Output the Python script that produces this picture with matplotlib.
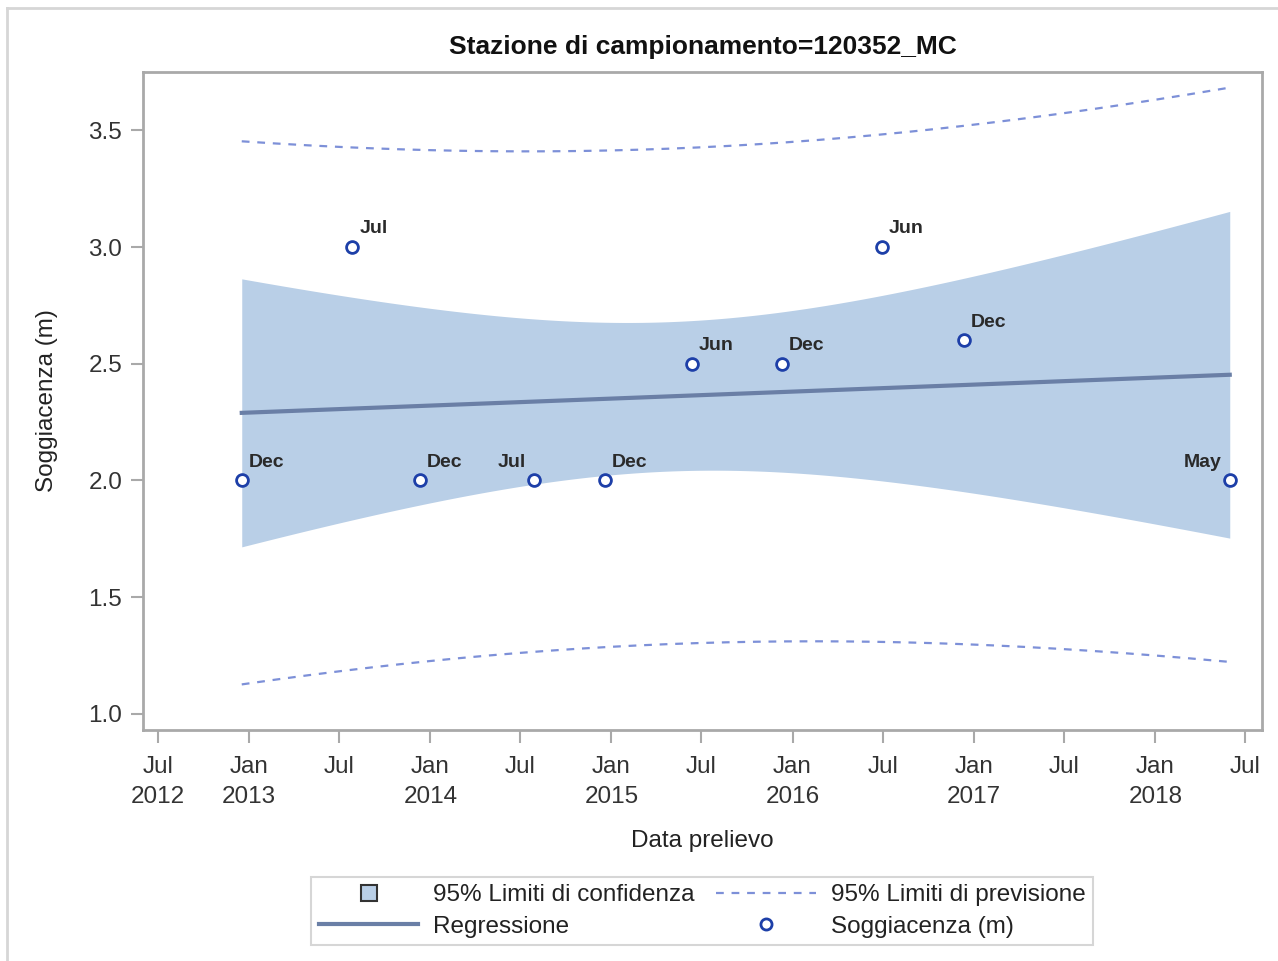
import numpy as np
import matplotlib
matplotlib.use("Agg")
import matplotlib.pyplot as plt
import matplotlib.dates as mdates
from matplotlib.lines import Line2D
import datetime as dt

# ---- data ----
dates = ["2012-12-17", "2013-07-28", "2013-12-11", "2014-07-29", "2014-12-19",
         "2015-06-12", "2015-12-10", "2016-06-29", "2016-12-12", "2018-05-31"]
values = [2.0, 3.0, 2.0, 2.0, 2.0, 2.5, 2.5, 3.0, 2.6, 2.0]
point_labels = ["Dec", "Jul", "Dec", "Jul", "Dec", "Jun", "Dec", "Jun", "Dec", "May"]
label_side = ["r", "r", "r", "l", "r", "r", "r", "r", "r", "l"]
title = "Stazione di campionamento=120352_MC"
t_crit = 2.306  # t(0.975, df=8)

plt.rcParams['font.family'] = ['Liberation Sans', 'DejaVu Sans']
FS = 17.5

xd = mdates.datestr2num(dates)
y = np.array(values)
n = len(y)
xm = xd.mean()
Sxx = np.sum((xd - xm) ** 2)
b1 = np.sum((xd - xm) * (y - y.mean())) / Sxx
b0 = y.mean() - b1 * xm
resid = y - (b0 + b1 * xd)
s = np.sqrt(np.sum(resid ** 2) / (n - 2))
grid = np.linspace(xd.min(), xd.max(), 300)
fit = b0 + b1 * grid
se_mean = s * np.sqrt(1 / n + (grid - xm) ** 2 / Sxx)
se_pred = s * np.sqrt(1 + 1 / n + (grid - xm) ** 2 / Sxx)

band_c = "#B9CFE7"
reg_c = "#6A7FA6"
pred_c = "#7D90D8"
mk_c = "#1D3FA8"
spine_c = "#A9A9A9"

fig = plt.figure(figsize=(12.78, 9.61), dpi=100)
ax = fig.add_axes([143 / 1278, 1 - 730 / 961, (1262 - 143) / 1278, (730 - 72) / 961])

ax.fill_between(grid, fit - t_crit * se_mean, fit + t_crit * se_mean, color=band_c, lw=0, zorder=1)
ax.plot(grid, fit, color=reg_c, lw=3, zorder=2)
ax.plot(grid, fit + t_crit * se_pred, color=pred_c, lw=1.6, ls=(0, (3.5, 3.5)), zorder=2)
ax.plot(grid, fit - t_crit * se_pred, color=pred_c, lw=1.6, ls=(0, (3.5, 3.5)), zorder=2)
ax.plot(xd, y, ls="none", marker="o", ms=8.5, mfc="white", mec=mk_c, mew=2, zorder=3)

for xi, yi, lab, side in zip(xd, y, point_labels, label_side):
    if side == "r":
        ax.annotate(lab, (xi, yi), xytext=(5, 7), textcoords="offset points",
                    ha="left", va="bottom", fontsize=14, fontweight="bold", color="#2a2a2a")
    else:
        ax.annotate(lab, (xi, yi), xytext=(-6, 7), textcoords="offset points",
                    ha="right", va="bottom", fontsize=14, fontweight="bold", color="#2a2a2a")

ax.set_xlim(mdates.datestr2num("2012-06-01"), mdates.datestr2num("2018-08-04"))
ax.set_ylim(0.93, 3.75)
ax.set_yticks([1.0, 1.5, 2.0, 2.5, 3.0, 3.5])
ax.set_yticklabels(["1.0", "1.5", "2.0", "2.5", "3.0", "3.5"])

ticks = []
tlabels = []
for yr in range(2012, 2019):
    for mo in (1, 7):
        d = dt.date(yr, mo, 1)
        if dt.date(2012, 7, 1) <= d <= dt.date(2018, 7, 1):
            ticks.append(mdates.date2num(d))
            if mo == 1:
                tlabels.append("Jan\n%d" % yr)
            elif yr == 2012:
                tlabels.append("Jul\n2012")
            else:
                tlabels.append("Jul\n ")
ax.set_xticks(ticks)
ax.set_xticklabels(tlabels, linespacing=1.5)

ax.tick_params(axis="both", direction="out", length=9, width=1.5, color=spine_c,
               labelsize=FS, labelcolor="#333333")
ax.tick_params(axis="y", pad=6)
ax.tick_params(axis="x", pad=9.5)
for sp in ax.spines.values():
    sp.set_color(spine_c)
    sp.set_linewidth(2)

ax.set_title(title, fontsize=19, fontweight="bold", color="#111111", pad=13)
ax.set_xlabel("Data prelievo", fontsize=FS, color="#222222", labelpad=16)
ax.set_ylabel("Soggiacenza (m)", fontsize=FS, color="#222222", labelpad=22)

handles = [
    Line2D([], [], ls="none", marker="s", ms=12, mfc=band_c, mec="#333333", mew=1.5),
    Line2D([], [], color=reg_c, lw=3),
    Line2D([], [], color=pred_c, lw=1.6, ls=(0, (3.5, 3.5))),
    Line2D([], [], ls="none", marker="o", ms=8, mfc="white", mec=mk_c, mew=2),
]
labels = ["95% Limiti di confidenza", "Regressione", "95% Limiti di previsione", "Soggiacenza (m)"]
leg = fig.legend(handles, labels, loc="center", bbox_to_anchor=(702 / 1278, 1 - 911 / 961),
                 ncol=2, fontsize=FS, frameon=True, fancybox=False, handlelength=4.1,
                 handletextpad=0.6, columnspacing=0.9, labelspacing=0.38, borderpad=0.3)
leg.get_frame().set_edgecolor("#CCCCCC")
leg.get_frame().set_linewidth(1.5)
for t in leg.get_texts():
    t.set_color("#222222")

# outer border (left and top)
fig.add_artist(Line2D([7 / 1278, 7 / 1278], [0, 1 - 8 / 961], transform=fig.transFigure, color="#D6D6D6", lw=2))
fig.add_artist(Line2D([7 / 1278, 1], [1 - 8 / 961, 1 - 8 / 961], transform=fig.transFigure, color="#D6D6D6", lw=2))

fig.savefig("out.png", dpi=100)
